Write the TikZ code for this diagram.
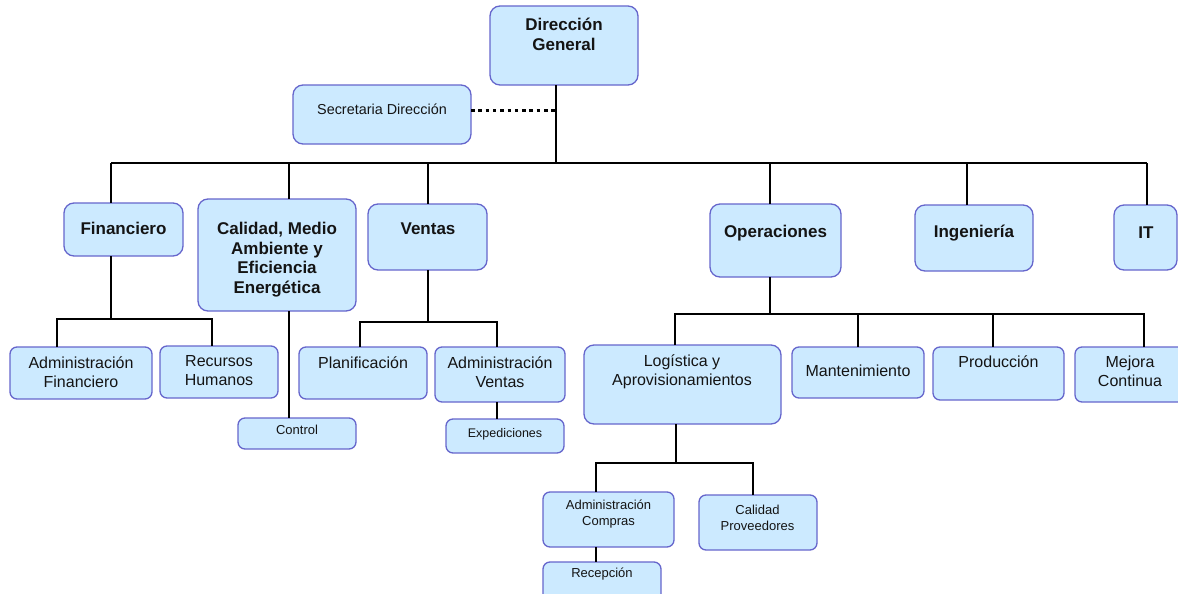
\documentclass[tikz,border=0pt]{standalone}
\usepackage{fontspec}
\setmainfont{Liberation Sans}
\usetikzlibrary{fit}
\definecolor{boxfill}{RGB}{204,234,255}
\definecolor{boxline}{RGB}{102,102,204}
\definecolor{txt}{RGB}{20,20,20}
\newcommand\obox[6]{\node[#6,fit={(#2,#3)(#4,#5)}] (#1) {};}
\begin{document}
\begin{tikzpicture}[x=1pt,y=-1pt,
 box/.style={draw=boxline,fill=boxfill,line width=1.3pt,rounded corners=10pt,inner sep=0pt,outer sep=0pt},
 sbox/.style={box,rounded corners=7pt},
 conn/.style={line width=2.9pt,draw=black,line join=miter},
 hb/.style={font=\fontsize{17}{19.7}\selectfont\bfseries,align=center,inner sep=0pt,text=txt},
 tr/.style={font=\fontsize{16}{19}\selectfont,align=center,inner sep=0pt,text=txt},
 ts/.style={font=\fontsize{13}{16}\selectfont,align=center,inner sep=0pt,text=txt},
]
\useasboundingbox (0,0) rectangle (1178,594);
\clip (0,0) rectangle (1178,594);

% ---- boxes ----
\obox{dg}{490}{6}{638}{85}{box}
\obox{sec}{293}{85}{471}{144}{box}
\obox{fin}{64}{203}{183}{256}{box}
\obox{cal}{198}{199}{356}{311}{box}
\obox{ven}{368}{204}{487}{270}{box}
\obox{ope}{710}{204}{841}{277}{box}
\obox{ing}{915}{205}{1033}{271}{box}
\obox{it}{1114}{205}{1177}{270}{box}
\obox{admfin}{10}{347}{152}{399}{sbox}
\obox{rrhh}{160}{346}{278}{398}{sbox}
\obox{control}{238}{418}{356}{449}{sbox}
\obox{plan}{299}{347}{427}{399}{sbox}
\obox{admven}{435}{347}{565}{402}{sbox}
\obox{exped}{446}{419}{564}{453}{sbox}
\obox{log}{584}{345}{781}{424}{box}
\obox{mant}{792}{347}{924}{398}{sbox}
\obox{prod}{933}{347}{1064}{400}{sbox}
\obox{mej}{1075}{347}{1195}{402}{sbox}
\obox{admcom}{543}{492}{674}{547}{sbox}
\obox{calprov}{699}{495}{817}{550}{sbox}
\obox{recep}{543}{562}{661}{605}{sbox}

% ---- texts ----
\node[hb] (dg-t) at (564,34) {Dirección\\General};
\node[tr,font=\fontsize{14.4}{17}\selectfont] (sec-t) at (382,109) {Secretaria Dirección};
\node[hb] (fin-t) at (123.5,228) {Financiero};
\node[hb] (cal-t) at (277,259.5) {Calidad, Medio\\Ambiente y\\Eficiencia\\Energética};
\node[hb] (ven-t) at (428,229) {Ventas};
\node[hb] (ope-t) at (775.5,233) {Operaciones};
\node[hb] (ing-t) at (974,233) {Ingeniería};
\node[hb] (it-t) at (1146,233) {IT};
\node[tr] (admfin-t) at (81,372.5) {Administración\\Financiero};
\node[tr] (rrhh-t) at (219,371) {Recursos\\Humanos};
\node[ts] (control-t) at (297,430) {Control};
\node[tr] (plan-t) at (363,363) {Planificación};
\node[tr] (admven-t) at (500,372.5) {Administración\\Ventas};
\node[ts,font=\fontsize{12.5}{15}\selectfont] (exped-t) at (505,434) {Expediciones};
\node[tr] (log-t) at (682,371.5) {Logística y\\Aprovisionamientos};
\node[tr] (mant-t) at (858,371) {Mantenimiento};
\node[tr] (prod-t) at (998.5,362) {Producción};
\node[tr] (mej-t) at (1130,371.5) {Mejora\\Continua};
\node[ts] (admcom-t) at (608.5,514) {Administración\\Compras};
\node[ts] (calprov-t) at (757.5,518) {Calidad\\Proveedores};
\node[ts] (recep-t) at (602,574) {Recepción};

% ---- junction coordinates ----
\coordinate (dgj) at (556,163);
\coordinate (secj) at (556,110);
\coordinate (b-fin) at (111,163);
\coordinate (b-cal) at (289,163);
\coordinate (b-ven) at (428,163);
\coordinate (b-ope) at (770,163);
\coordinate (b-ing) at (967,163);
\coordinate (b-it) at (1147,163);

\coordinate (finj) at (111,319);
\coordinate (fin-l) at (57,319);
\coordinate (fin-r) at (212,319);
\coordinate (calj) at (289,311);
\coordinate (venj) at (428,322);
\coordinate (ven-l) at (360,322);
\coordinate (ven-r) at (497,322);
\coordinate (avj) at (497,402);
\coordinate (opej) at (770,314);
\coordinate (ope-1) at (675,314);
\coordinate (ope-2) at (858,314);
\coordinate (ope-3) at (993,314);
\coordinate (ope-4) at (1144,314);
\coordinate (logj) at (676,463);
\coordinate (log-l) at (596,463);
\coordinate (log-r) at (753,463);
\coordinate (acj) at (596,547);

% ---- connectors ----
\draw[conn] (dgj |- dg.south) -- (dgj);
\draw[conn] (b-fin) -- (b-it);
\draw[conn, line width=3pt, dash pattern=on 3.5pt off 3.8pt] (secj -| sec.east) -- (secj);
\foreach \j/\n in {b-fin/fin,b-cal/cal,b-ven/ven,b-ope/ope,b-ing/ing,b-it/it}
  \draw[conn] (\j) -- (\j |- \n.north);

\draw[conn] (finj |- fin.south) -- (finj);
\draw[conn] (fin-l |- admfin.north) -- (fin-l) -- (fin-r) -- (fin-r |- rrhh.north);
\draw[conn] (calj |- cal.south) -- (calj |- control.north);
\draw[conn] (venj |- ven.south) -- (venj);
\draw[conn] (ven-l |- plan.north) -- (ven-l) -- (ven-r) -- (ven-r |- admven.north);
\draw[conn] (avj |- admven.south) -- (avj |- exped.north);
\draw[conn] (opej |- ope.south) -- (opej);
\draw[conn] (ope-1 |- log.north) -- (ope-1) -- (ope-4) -- (ope-4 |- mej.north);
\draw[conn] (ope-2) -- (ope-2 |- mant.north);
\draw[conn] (ope-3) -- (ope-3 |- prod.north);
\draw[conn] (logj |- log.south) -- (logj);
\draw[conn] (log-l |- admcom.north) -- (log-l) -- (log-r) -- (log-r |- calprov.north);
\draw[conn] (acj |- admcom.south) -- (acj |- recep.north);
\end{tikzpicture}
\end{document}
